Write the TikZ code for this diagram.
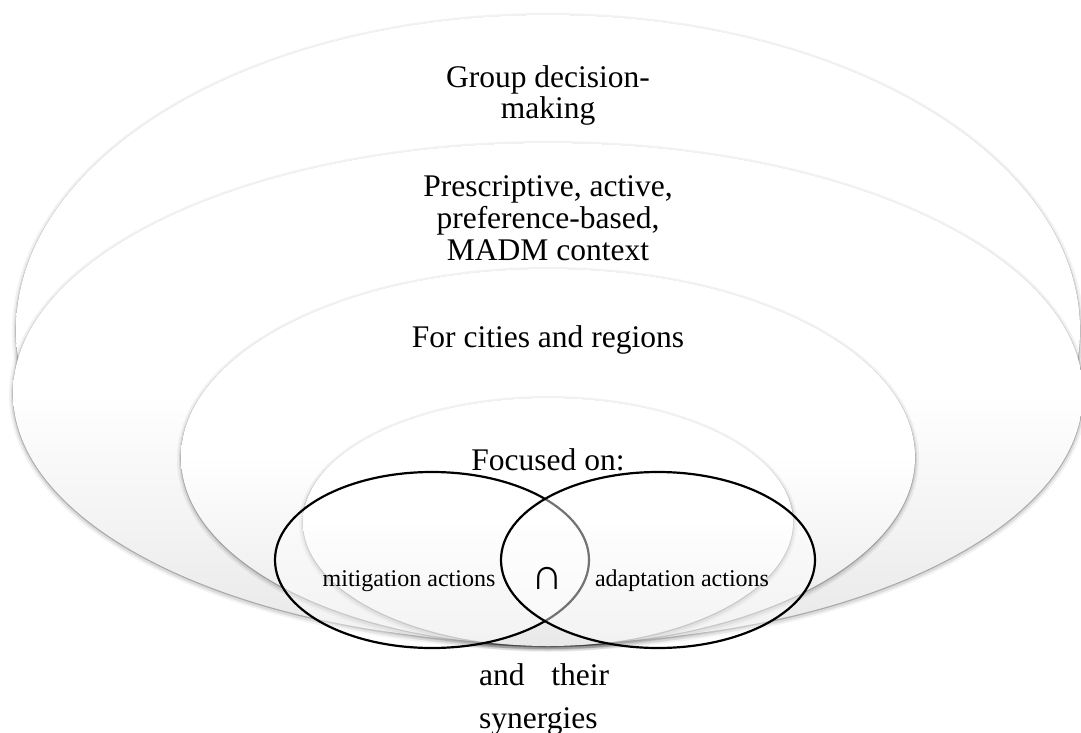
\documentclass[tikz,border=0pt]{standalone}
\usepackage{fontspec}
\setmainfont{Liberation Serif}

\begin{document}
\begin{tikzpicture}[x=1pt,y=-1pt,
  ring/.style={preaction={draw=black,draw opacity=.05,line width=8pt,transform canvas={yshift=-2pt}},
    preaction={draw=black,draw opacity=.09,line width=4pt,transform canvas={yshift=-2pt}},
    preaction={draw=black,draw opacity=.22,line width=1.2pt,transform canvas={yshift=-1pt}},
    top color=white,bottom color=black!9,middle color=white},
  venn/.style={draw=black,line width=2.2pt,fill=white,fill opacity=.45},
  big/.style={font=\fontsize{31.5}{32}\selectfont,align=center,inner sep=0pt},
  small/.style={font=\fontsize{24}{26}\selectfont,inner sep=0pt}]

  \useasboundingbox (0,0) rectangle (1081,733);

  % nested rings, all resting on the same bottom line
  \path[ring] (548,330) ellipse [x radius=532,y radius=315];
  \path[ring] (548,393) ellipse [x radius=535,y radius=250];
  \path[ring] (548,457) ellipse [x radius=367,y radius=188];
  \path[ring] (548,522) ellipse [x radius=245,y radius=124];

  % the two action sets
  \path[venn] (432,560) ellipse [x radius=157,y radius=88];
  \path[venn] (658,560) ellipse [x radius=157,y radius=88];

  % anchor=base is the last line here
  \node[big,anchor=base] (group) at (548,119) {Group decision-\\making};
  \node[big,anchor=base] (context) at (548,260) {Prescriptive, active,\\preference-based,\\MADM context};
  \node[big,anchor=base] (cities) at (548,347) {For cities and regions};
  \node[big,anchor=base] (focus) at (548,470) {Focused on:};

  \node[small,anchor=base] (mitig) at (409,586) {mitigation actions};
  \node[small,anchor=base,font=\fontsize{44}{44}\selectfont] (inter) at (547,589) {∩};
  \node[small,anchor=base] (adapt) at (682,586) {adaptation actions};

  \node[big,anchor=base west,text width=130pt,align=justify,font=\fontsize{31.5}{43}\selectfont] (syn) at (479,685) {and their synergies};
\end{tikzpicture}
\end{document}
